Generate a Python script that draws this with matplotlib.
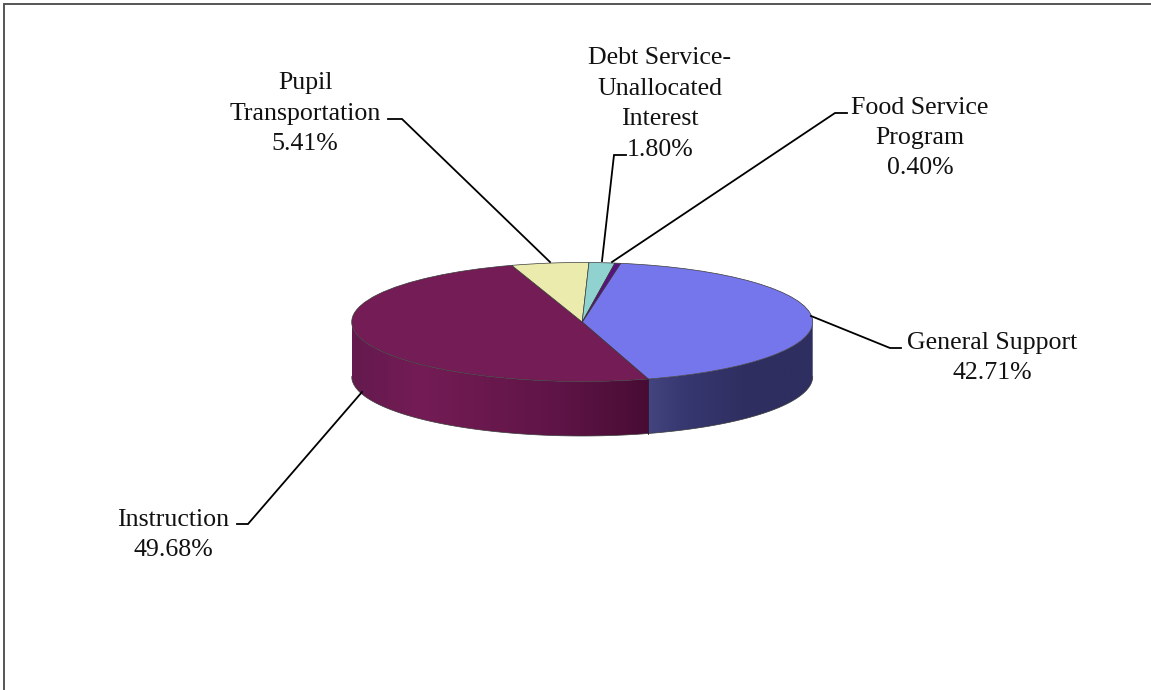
import numpy as np
from matplotlib import pyplot as plt
from matplotlib.colors import to_rgb
from matplotlib.patches import Polygon

# Budget shares, clockwise from the General Support slice
categories = ["General Support", "Instruction", "Pupil\nTransportation",
              "Debt Service-\nUnallocated\nInterest", "Food Service\nProgram"]
shares = [42.71, 49.68, 5.41, 1.80, 0.40]
share_labels = ["42.71%", "49.68%", "5.41%", "1.80%", "0.40%"]

top_colors = ["#7676EC", "#741C55", "#ECEBAE", "#90D2D0", "#5A1080"]
W, H = 1151, 690

# Ellipse of the pie top, in pixels
cx, cy, rx, ry = 582.2, 322.0, 230.5, 59.5
depth = 54.5
start_angle = 80.4

plt.rcParams["font.family"] = ["Liberation Serif", "DejaVu Serif"]
fig = plt.figure(figsize=(W / 100, H / 100), dpi=100)

# Pie axes: unit circle squashed into the ellipse
ax = fig.add_axes([0, 0, 1, 1])
wedges, _ = ax.pie(shares, colors=top_colors, startangle=start_angle, counterclock=False,
                   wedgeprops={"edgecolor": "#3a3a3a", "linewidth": 0.5})
for w in wedges:
    w.set_zorder(3)


# Front wall: a horizontal gradient clipped to the band under the rim
def draw_wall(a0, a1, xp, colors):
    d = depth / ry
    t = np.radians(np.linspace(a0, a1, 120))
    x, y = np.cos(t), np.sin(t)
    outline = np.column_stack([np.r_[x, x[::-1]], np.r_[y, y[::-1] - d]])
    patch = Polygon(outline, closed=True, facecolor="none", edgecolor="none",
                    transform=ax.transData)
    ax.add_patch(patch)
    rgb = np.array([to_rgb(c) for c in colors])
    grid = np.linspace(x.min(), x.max(), 300)
    px = cx + rx * grid
    band = np.column_stack([np.interp(px, xp, rgb[:, i]) for i in range(3)])[np.newaxis]
    im = ax.imshow(band, extent=(x.min(), x.max(), y.min() - d, y.max()),
                   aspect="auto", origin="lower", zorder=1, interpolation="bilinear")
    im.set_clip_path(patch)
    ax.plot(x, y - d, color="#3a3a3a", lw=0.5, zorder=2)


# Slice boundaries in math angles (clockwise from the start)
bounds = start_angle - np.cumsum([0] + shares) * 3.6
split = bounds[1]
draw_wall(0, split, [648, 680, 750, 813], ["#44447F", "#383872", "#2E2E60", "#2E2E60"])
draw_wall(split, -180, [352, 420, 560, 648], ["#641A4E", "#741C55", "#5E1446", "#480C34"])

# Seam between the two wall colours
sx, sy = np.cos(np.radians(split)), np.sin(np.radians(split))
ax.plot([sx, sx], [sy, sy - depth / ry], color="#2a1030", lw=0.6, zorder=2)

ax.set_aspect("auto")
ax.set_xlim((0 - cx) / rx, (W - cx) / rx)
ax.set_ylim((cy - H) / ry, cy / ry)

# Overlay in pixel coordinates for the frame, leader lines and labels
over = fig.add_axes([0, 0, 1, 1])
over.set_xlim(0, W)
over.set_ylim(H, 0)
over.axis("off")
over.patch.set_alpha(0)

over.plot([4.5, 4.5, W], [H, 3.5, 3.5], color="#555555", lw=1.4, solid_joinstyle="miter")

leaders = [
    [(811, 316), (890, 348), (901, 348)],
    [(362, 392), (248, 524), (237, 524)],
    [(550, 262), (402, 119), (388, 119)],
    [(602, 261), (614, 155), (626, 155)],
    [(612, 262), (835, 113), (847, 113)],
]
label_pos = [(992, 358), (173, 535), (305, 114), (660, 104), (920, 138)]

for pts, pos, name, pct in zip(leaders, label_pos, categories, share_labels):
    xs, ys = zip(*pts)
    over.plot(xs, ys, color="black", lw=1.3, solid_joinstyle="miter")
    over.text(pos[0], pos[1], name + "\n" + pct, ha="center", va="center",
              fontsize=18.6, linespacing=1.5, color="#111111")

fig.savefig("out.png", dpi=100)
